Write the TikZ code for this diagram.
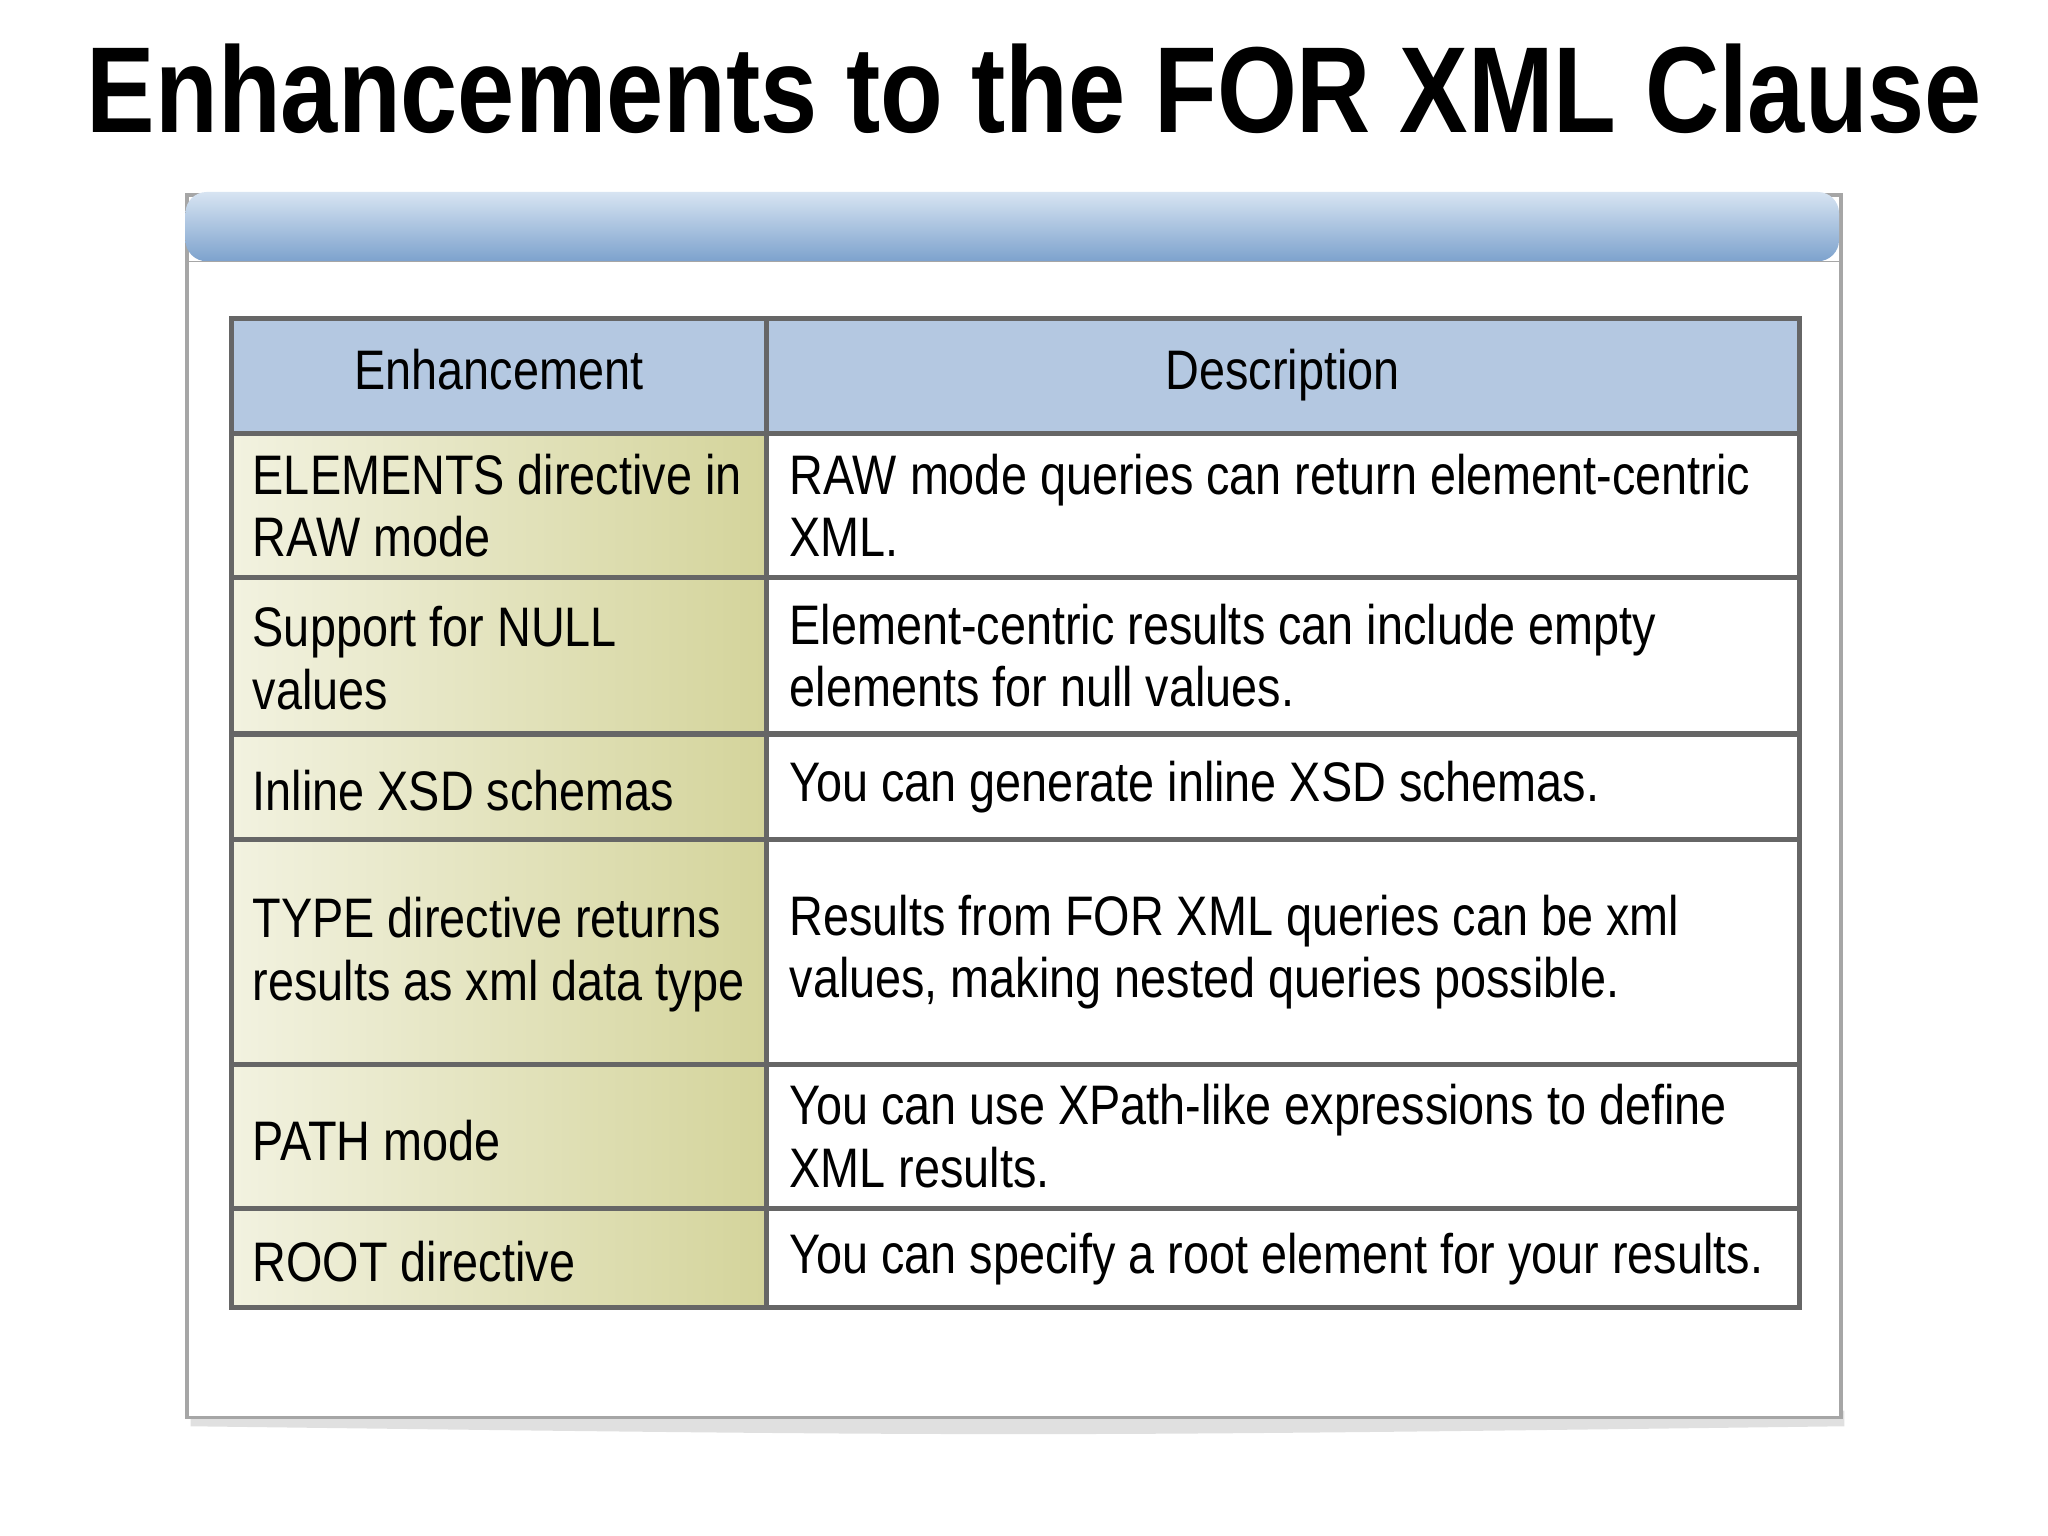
\documentclass[tikz,border=0pt]{standalone}
\usepackage{fontspec}
\setmainfont{Liberation Sans}[FakeStretch=0.84]
\begin{document}
\begin{tikzpicture}[x=0.01306cm,y=-0.01306cm,
  bd/.style={draw=gray!80!black,line width=1.5pt},
  txt/.style={anchor=west,align=left,font=\fontsize{15.85}{17.8}\selectfont,inner sep=0pt}]
\useasboundingbox (0,0) rectangle (1568,1176);
% panel shadow and frame
\fill[black!12] (146,1080) -- (1412,1080) -- (1412,1092) .. controls (780,1100) .. (146,1092) -- cycle;
\node (panel) [draw=gray!70,line width=1pt,fill=white,minimum width=1266*0.01306cm,minimum height=936*0.01306cm,anchor=north west,inner sep=0pt] at (142,148) {};
\shade[top color={rgb,255:red,215;green,228;blue,242},bottom color={rgb,255:red,125;green,162;blue,205},rounded corners=6pt] (142,147) rectangle (1408,200);
\draw[gray!70] (142,200) -- (1408,200);
% title
\node (title) at (792,68) {\fontsize{34.8}{42}\selectfont\bfseries Enhancements to the FOR XML Clause};
% table fills
\fill[fill={rgb,255:red,180;green,200;blue,225}] (177,244) rectangle (1378,332);
\shade[left color={rgb,255:red,242;green,242;blue,224},right color={rgb,255:red,212;green,212;blue,155}] (177,332) rectangle (587,1001);
% grid
\draw[bd] (177,244) rectangle (1378,1001);
\draw[bd] (587,244) -- (587,1001);
\foreach \yy in {332,442,562,643,815,925} \draw[bd] (177,\yy) -- (1378,\yy);
% header
\node (h1) at (382,288) {\fontsize{15.85}{19}\selectfont\strut Enhancement};
\node (h2) at (982,288) {\fontsize{15.85}{19}\selectfont\strut Description};
% rows
\node (e1)[txt] at (193,387) {ELEMENTS directive in\\RAW mode};
\node (d1)[txt] at (604,387) {RAW mode queries can return element-centric\\XML.};
\node (e2)[txt] at (193,504) {Support for NULL\\values};
\node (d2)[txt] at (604,502) {Element-centric results can include empty\\elements for null values.};
\node (e3)[txt] at (193,605) {Inline XSD schemas};
\node (d3)[txt] at (604,603) {You can generate inline XSD schemas.};
\node (e4)[txt] at (193,731) {TYPE directive returns\\results as xml data type};
\node (d4)[txt] at (604,729) {Results from FOR XML queries can be xml\\values, making nested queries possible.};
\node (e5)[txt] at (193,873) {PATH mode};
\node (d5)[txt] at (604,870) {You can use XPath-like expressions to define\\XML results.};
\node (e6)[txt] at (193,966) {ROOT directive};
\node (d6)[txt] at (604,964) {You can specify a root element for your results.};
\end{tikzpicture}
\end{document}
